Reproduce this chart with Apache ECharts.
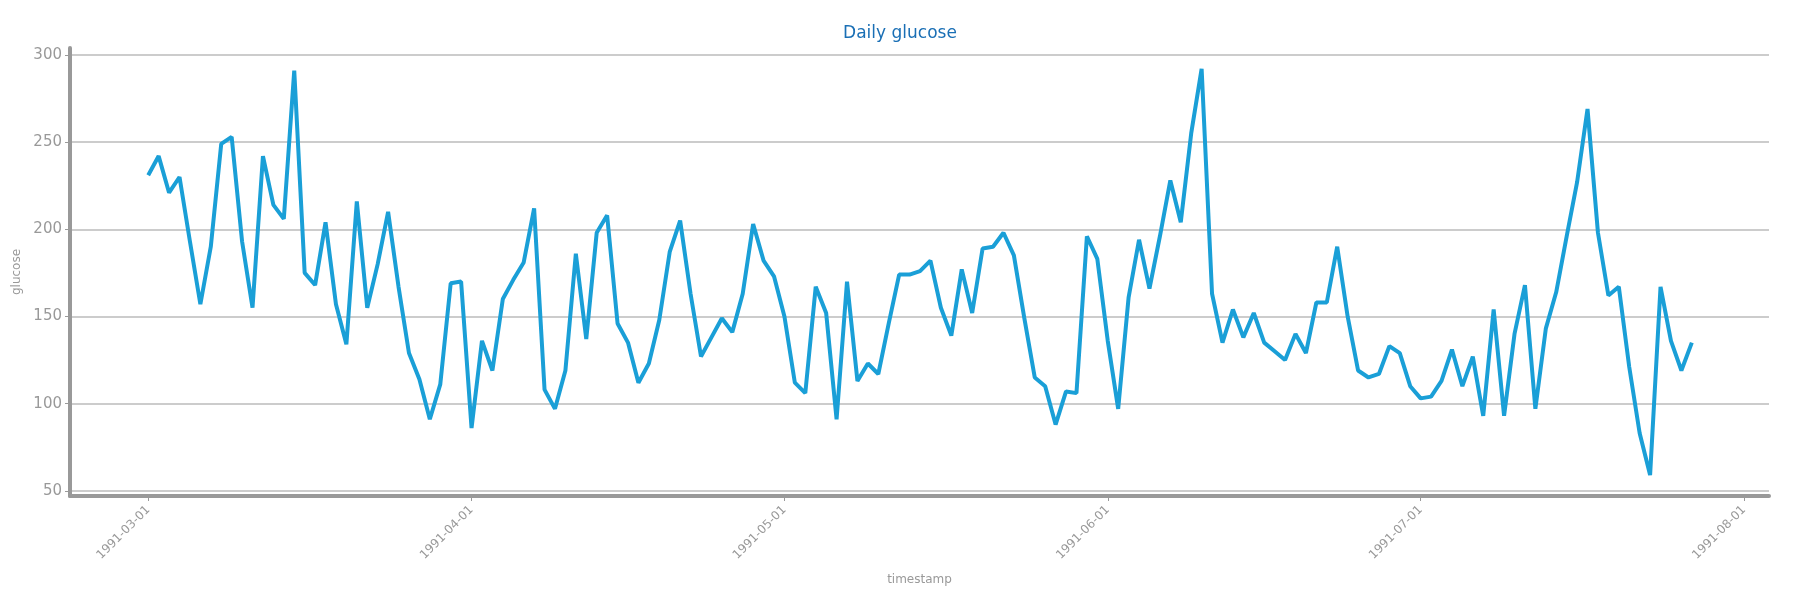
<!DOCTYPE html>
<html>
<head>
<meta charset="utf-8">
<title>Daily glucose</title>
<script src="https://cdn.jsdelivr.net/npm/echarts@6/dist/echarts.min.js"></script>
<style>html,body{margin:0;padding:0;background:#fff;}</style>
</head>
<body>
<div id="main" style="width:1800px;height:600px;"></div>
<script>
var startDate = '1991-03-01';
var glucose = [
  231, 242, 221, 230, 193, 157, 190, 249, 253, 193,
  155, 242, 214, 206, 291, 175, 168, 204, 157, 134,
  216, 155, 180, 210, 167, 129, 114, 91, 111, 169,
  170, 86, 136, 119, 160, 171, 181, 212, 108, 97,
  119, 186, 137, 198, 208, 146, 135, 112, 123, 148,
  187, 205, 163, 127, 138, 149, 141, 163, 203, 182,
  173, 150, 112, 106, 167, 152, 91, 170, 113, 123,
  117, 146, 174, 174, 176, 182, 155, 139, 177, 152,
  189, 190, 198, 185, 149, 115, 110, 88, 107, 106,
  196, 183, 136, 97, 161, 194, 166, 196, 228, 204,
  255, 292, 163, 135, 154, 138, 152, 135, 130, 125,
  140, 129, 158, 158, 190, 150, 119, 115, 117, 133,
  129, 110, 103, 104, 113, 131, 110, 127, 93, 154,
  93, 140, 168, 97, 143, 164, 196, 227, 269, 198,
  162, 167, 121, 83, 59, 167, 136, 119, 135
];
var yTicks = [50, 100, 150, 200, 250, 300];

var day = 24 * 3600 * 1000;
var t0 = +new Date(startDate + 'T00:00:00');
var points = glucose.map(function (v, i) { return [t0 + i * day, v]; });

var chart = echarts.init(document.getElementById('main'));
chart.setOption({
  animation: false,
  title: {
    text: 'Daily glucose', left: 'center', top: 20,
    textStyle: { color: '#1a6fb5', fontSize: 17, fontWeight: 'normal', fontFamily: 'DejaVu Sans' }
  },
  grid: { left: 70, right: 31, top: 48, bottom: 104 },
  xAxis: {
    type: 'time',
    min: t0 - 7.5 * day,
    max: t0 + 155.4 * day,
    name: 'timestamp', nameLocation: 'middle', nameGap: 78,
    nameTextStyle: { color: '#999', fontSize: 12, fontFamily: 'DejaVu Sans' },
    axisLine: { lineStyle: { color: '#999', width: 4 } },
    axisTick: { show: true, length: 5, lineStyle: { color: '#999' } },
    splitLine: { show: false },
    axisLabel: {
      rotate: 45, color: '#999', fontSize: 12, fontFamily: 'DejaVu Sans',
      formatter: '{yyyy}-{MM}-{dd}', margin: 12
    }
  },
  yAxis: {
    type: 'value',
    min: 47, max: 304,
    name: 'glucose', nameLocation: 'middle', nameGap: 42,
    nameTextStyle: { color: '#999', fontSize: 12, fontFamily: 'DejaVu Sans' },
    axisLine: { show: true, lineStyle: { color: '#999', width: 4 } },
    axisTick: { show: true, length: 5, lineStyle: { color: '#999' }, customValues: yTicks },
    axisLabel: { color: '#999', fontSize: 15, fontFamily: 'DejaVu Sans', customValues: yTicks },
    splitLine: { show: true, lineStyle: { color: '#ccc', width: 2 } }
  },
  series: [{
    type: 'line',
    data: points,
    showSymbol: false,
    lineStyle: { color: '#1a9fd7', width: 4 }
  }]
});
</script>
</body>
</html>
